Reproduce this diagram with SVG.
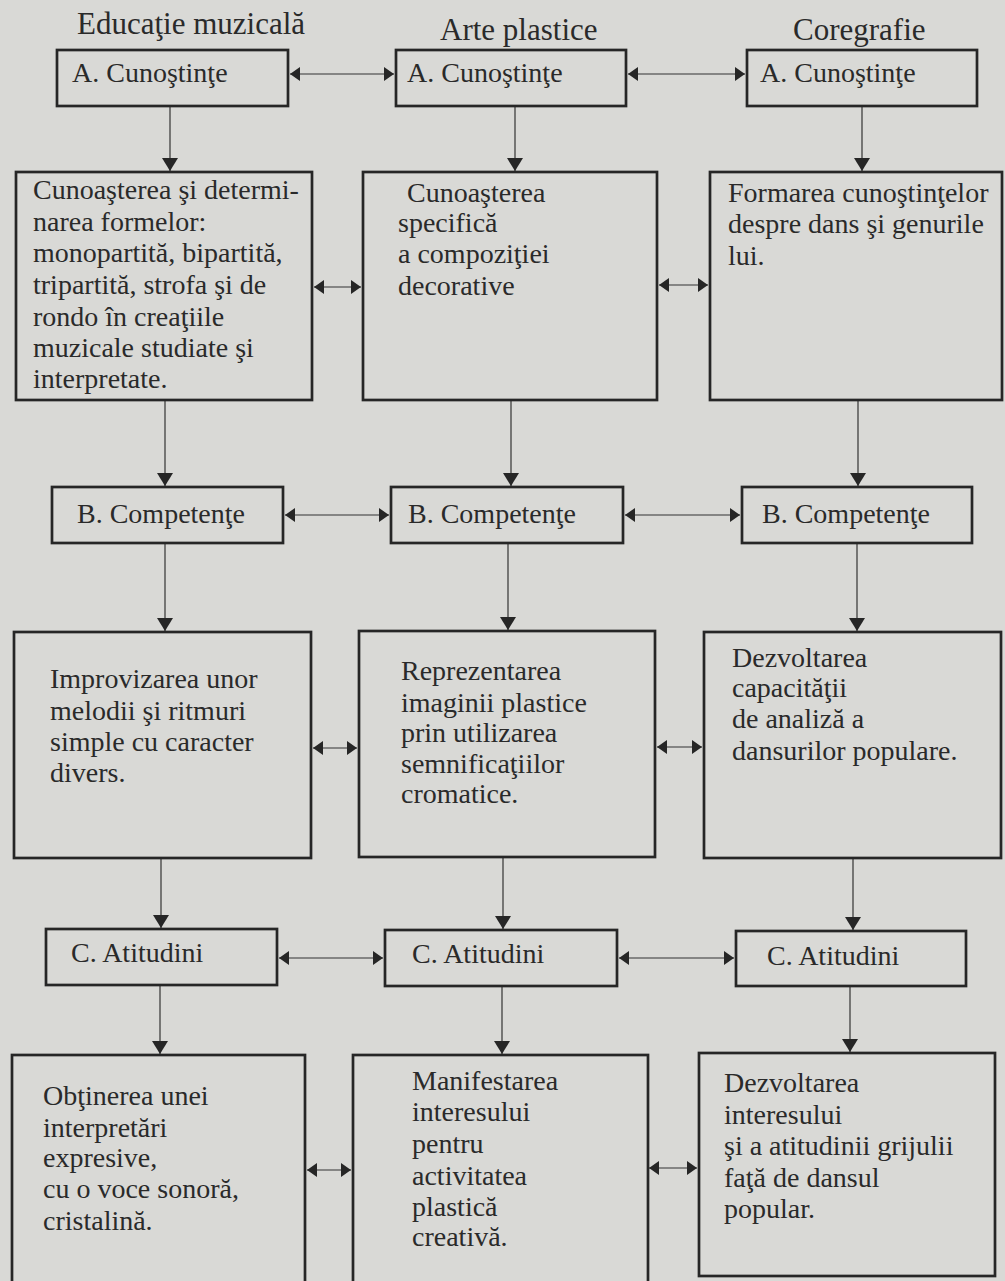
<svg xmlns="http://www.w3.org/2000/svg" width="1005" height="1281" viewBox="0 0 1005 1281">
<style>
.bg{fill:#d9d9d6}
.box{fill:none;stroke:#262626;stroke-width:2.7}
.t{font-family:"Liberation Serif","Times New Roman",serif;font-size:28px;fill:#2a2a2a}
.h{font-family:"Liberation Serif","Times New Roman",serif;font-size:31px;fill:#2a2a2a}
.v{stroke:#333;stroke-width:1.2;fill:none;marker-end:url(#down)}
.d{stroke:#333;stroke-width:1.2;fill:none;marker-start:url(#hd);marker-end:url(#hd)}
</style>
<defs>
<marker id="down" viewBox="0 0 13 16" refX="13" refY="8" markerWidth="13" markerHeight="16" markerUnits="userSpaceOnUse" orient="auto">
<path d="M0,0 L13,8 L0,16 z" fill="#262626"/>
</marker>
<marker id="hd" viewBox="0 0 10 14" refX="10" refY="7" markerWidth="10" markerHeight="14" markerUnits="userSpaceOnUse" orient="auto-start-reverse">
<path d="M0,0 L10,7 L0,14 z" fill="#262626"/>
</marker>
</defs>
<rect class="bg" x="0" y="0" width="1005" height="1281"/>

<g id="titles">
<text class="h" x="77" y="34">Educaţie muzicală</text>
<text class="h" x="440" y="40">Arte plastice</text>
<text class="h" x="793" y="40">Coregrafie</text>
</g>

<g id="connectors">
<line class="v" x1="170" y1="106" x2="170" y2="171"/>
<line class="v" x1="515" y1="106" x2="515" y2="171"/>
<line class="v" x1="862" y1="106" x2="862" y2="171"/>
<line class="v" x1="165" y1="400" x2="165" y2="486"/>
<line class="v" x1="511" y1="400" x2="511" y2="486"/>
<line class="v" x1="858" y1="400" x2="858" y2="486"/>
<line class="v" x1="165" y1="543" x2="165" y2="631"/>
<line class="v" x1="508" y1="543" x2="508" y2="630"/>
<line class="v" x1="857" y1="543" x2="857" y2="631"/>
<line class="v" x1="161" y1="858" x2="161" y2="928"/>
<line class="v" x1="503" y1="857" x2="503" y2="929"/>
<line class="v" x1="853" y1="858" x2="853" y2="930"/>
<line class="v" x1="160" y1="985" x2="160" y2="1054"/>
<line class="v" x1="502" y1="986" x2="502" y2="1054"/>
<line class="v" x1="850" y1="986" x2="850" y2="1052"/>

<line class="d" x1="290" y1="74" x2="394" y2="74"/>
<line class="d" x1="628" y1="74" x2="745" y2="74"/>
<line class="d" x1="314" y1="287" x2="361" y2="287"/>
<line class="d" x1="659" y1="285" x2="708" y2="285"/>
<line class="d" x1="285" y1="515" x2="389" y2="515"/>
<line class="d" x1="625" y1="515" x2="740" y2="515"/>
<line class="d" x1="313" y1="748" x2="357" y2="748"/>
<line class="d" x1="657" y1="747" x2="702" y2="747"/>
<line class="d" x1="279" y1="958" x2="383" y2="958"/>
<line class="d" x1="619" y1="958" x2="734" y2="958"/>
<line class="d" x1="307" y1="1170" x2="351" y2="1170"/>
<line class="d" x1="649" y1="1168" x2="697" y2="1168"/>
</g>

<g id="a1"><rect class="box" x="57" y="50" width="231" height="56"/><text class="t" x="72" y="82">A. Cunoştinţe</text></g>
<g id="a2"><rect class="box" x="396" y="50" width="230" height="56"/><text class="t" x="407" y="82">A. Cunoştinţe</text></g>
<g id="a3"><rect class="box" x="747" y="50" width="230" height="56"/><text class="t" x="760" y="82">A. Cunoştinţe</text></g>

<g id="k1"><rect class="box" x="16" y="172" width="296" height="228"/>
<text class="t"><tspan x="33" y="199">Cunoaşterea şi determi-</tspan><tspan x="33" y="231">narea formelor:</tspan><tspan x="33" y="262">monopartită, bipartită,</tspan><tspan x="33" y="294">tripartită, strofa şi de</tspan><tspan x="33" y="326">rondo în creaţiile</tspan><tspan x="33" y="357">muzicale studiate şi</tspan><tspan x="33" y="388">interpretate.</tspan></text></g>
<g id="k2"><rect class="box" x="363" y="172" width="294" height="228"/>
<text class="t"><tspan x="407" y="202">Cunoaşterea</tspan><tspan x="398" y="232">specifică</tspan><tspan x="398" y="263">a compoziţiei</tspan><tspan x="398" y="295">decorative</tspan></text></g>
<g id="k3"><rect class="box" x="710" y="172" width="292" height="228"/>
<text class="t"><tspan x="728" y="202">Formarea cunoştinţelor</tspan><tspan x="728" y="233">despre dans şi genurile</tspan><tspan x="728" y="265">lui.</tspan></text></g>

<g id="b1"><rect class="box" x="52" y="487" width="231" height="56"/><text class="t" x="77" y="523">B. Competenţe</text></g>
<g id="b2"><rect class="box" x="391" y="487" width="232" height="56"/><text class="t" x="408" y="523">B. Competenţe</text></g>
<g id="b3"><rect class="box" x="742" y="487" width="230" height="56"/><text class="t" x="762" y="523">B. Competenţe</text></g>

<g id="s1"><rect class="box" x="14" y="632" width="297" height="226"/>
<text class="t"><tspan x="50" y="688">Improvizarea unor</tspan><tspan x="50" y="720">melodii şi ritmuri</tspan><tspan x="50" y="751">simple cu caracter</tspan><tspan x="50" y="782">divers.</tspan></text></g>
<g id="s2"><rect class="box" x="359" y="631" width="296" height="226"/>
<text class="t"><tspan x="401" y="680">Reprezentarea</tspan><tspan x="401" y="712">imaginii plastice</tspan><tspan x="401" y="742">prin utilizarea</tspan><tspan x="401" y="773">semnificaţiilor</tspan><tspan x="401" y="803">cromatice.</tspan></text></g>
<g id="s3"><rect class="box" x="704" y="632" width="297" height="226"/>
<text class="t"><tspan x="732" y="667">Dezvoltarea</tspan><tspan x="732" y="697">capacităţii</tspan><tspan x="732" y="728">de analiză a</tspan><tspan x="732" y="760">dansurilor populare.</tspan></text></g>

<g id="c1"><rect class="box" x="46" y="929" width="231" height="56"/><text class="t" x="71" y="962">C. Atitudini</text></g>
<g id="c2"><rect class="box" x="385" y="930" width="232" height="56"/><text class="t" x="412" y="963">C. Atitudini</text></g>
<g id="c3"><rect class="box" x="736" y="931" width="230" height="55"/><text class="t" x="767" y="965">C. Atitudini</text></g>

<g id="r1"><rect class="box" x="12" y="1055" width="293" height="240"/>
<text class="t"><tspan x="43" y="1105">Obţinerea unei</tspan><tspan x="43" y="1137">interpretări</tspan><tspan x="43" y="1167">expresive,</tspan><tspan x="43" y="1198">cu o voce sonoră,</tspan><tspan x="43" y="1230">cristalină.</tspan></text></g>
<g id="r2"><rect class="box" x="353" y="1055" width="295" height="240"/>
<text class="t"><tspan x="412" y="1090">Manifestarea</tspan><tspan x="412" y="1121">interesului</tspan><tspan x="412" y="1153">pentru</tspan><tspan x="412" y="1185">activitatea</tspan><tspan x="412" y="1216">plastică</tspan><tspan x="412" y="1246">creativă.</tspan></text></g>
<g id="r3"><rect class="box" x="699" y="1053" width="296" height="223"/>
<text class="t"><tspan x="724" y="1092">Dezvoltarea</tspan><tspan x="724" y="1124">interesului</tspan><tspan x="724" y="1155">şi a atitudinii grijulii</tspan><tspan x="724" y="1187">faţă de dansul</tspan><tspan x="724" y="1218">popular.</tspan></text></g>
</svg>
